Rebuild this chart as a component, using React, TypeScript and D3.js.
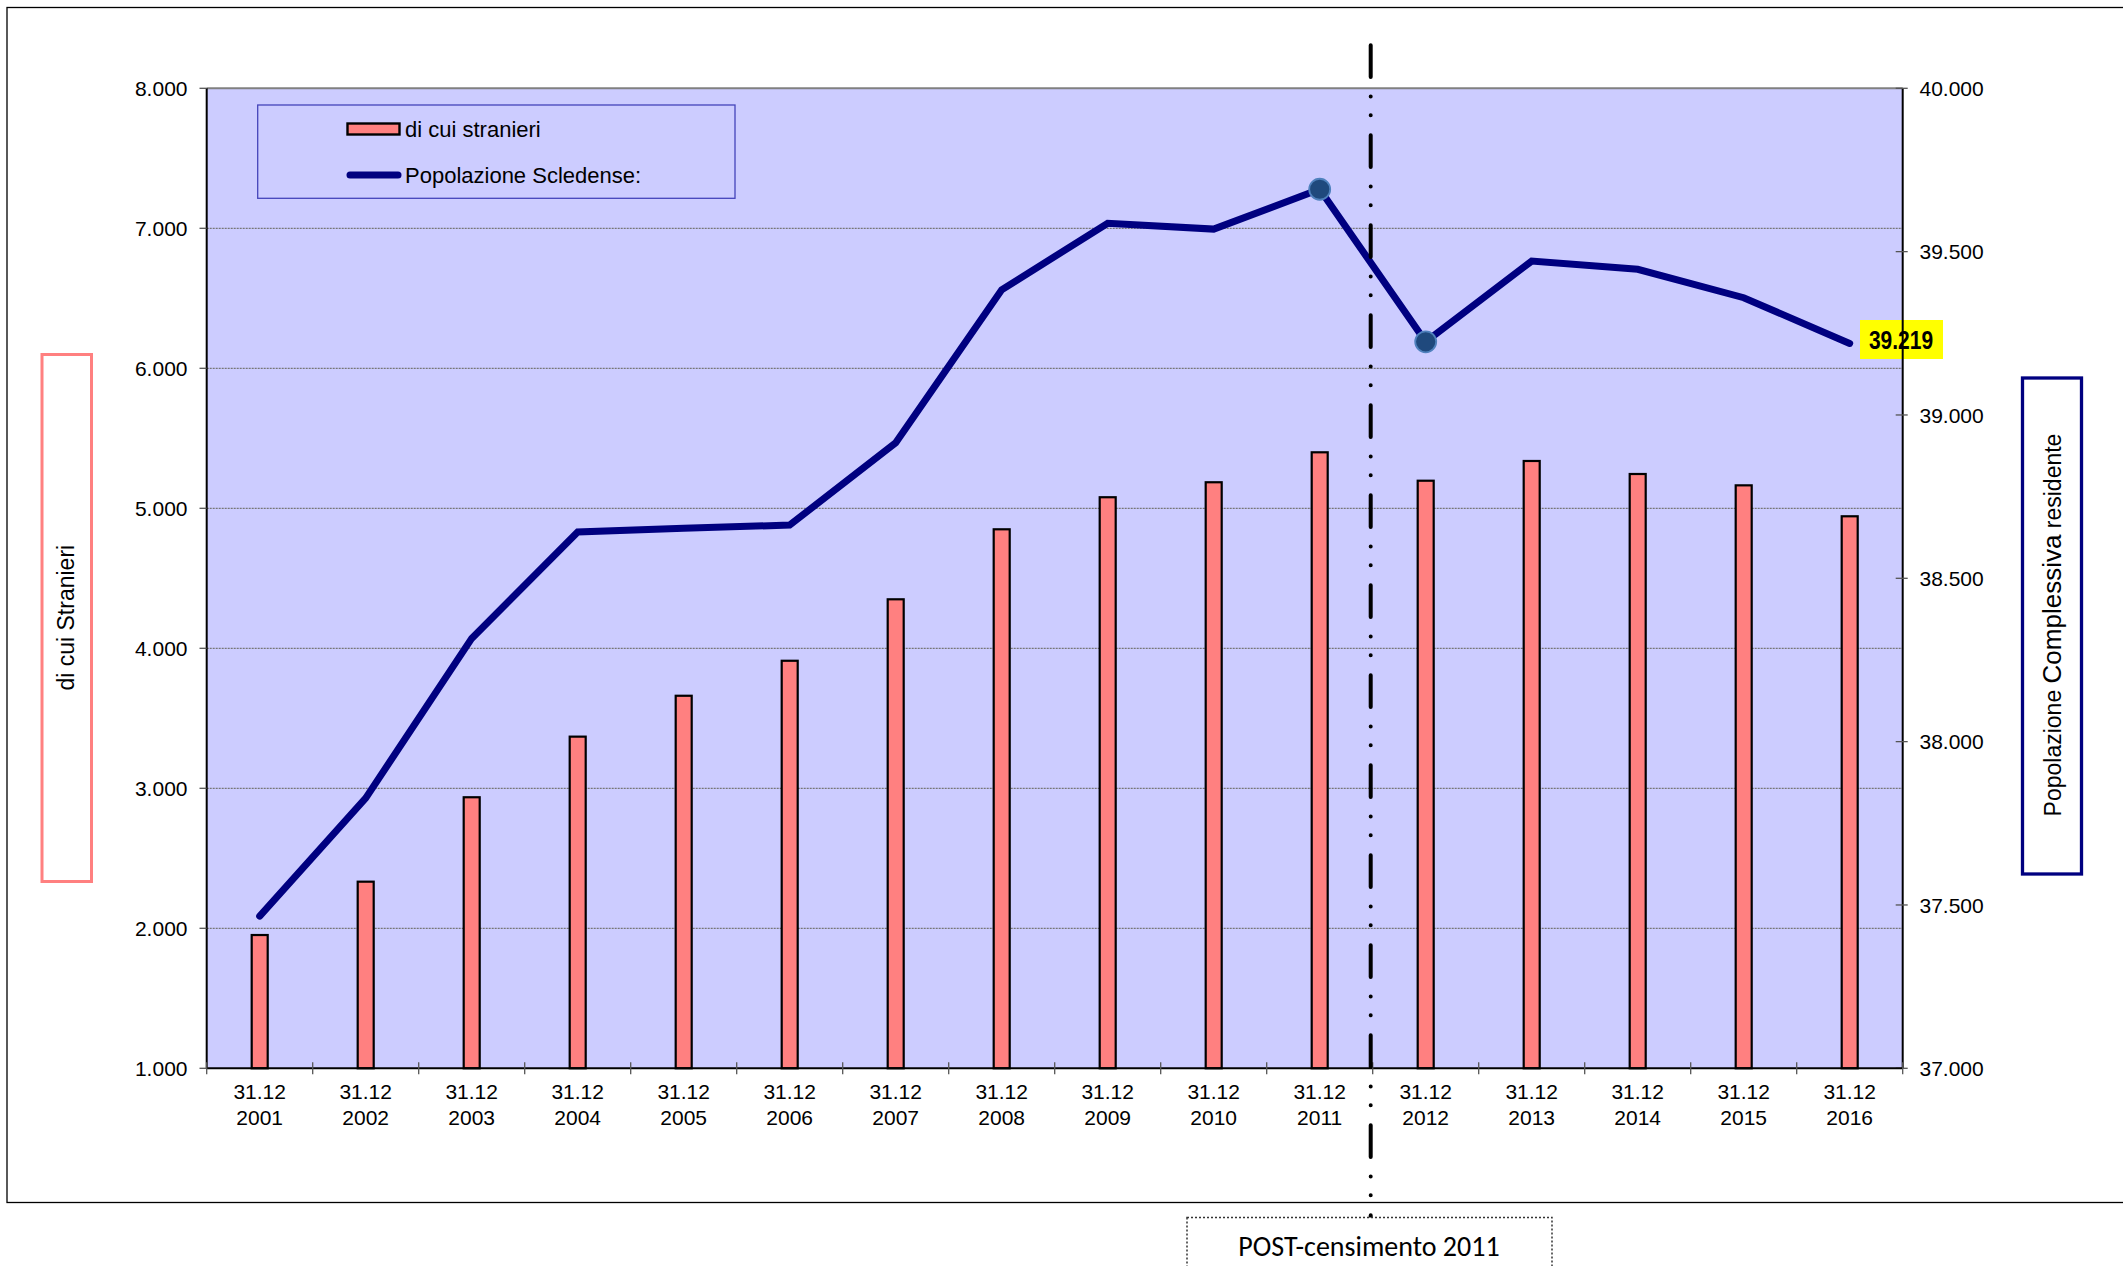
import * as d3 from 'd3';

const years = ['2001', '2002', '2003', '2004', '2005', '2006', '2007', '2008', '2009', '2010', '2011', '2012', '2013', '2014', '2015', '2016'];
const stranieri = [1952, 2333, 2936, 3369, 3661, 3911, 4350, 4850, 5079, 5186, 5400, 5197, 5338, 5245, 5164, 4943];
const popolazione = [37466, 37827, 38316, 38642, 38653, 38663, 38915, 39383, 39587, 39569, 39691, 39224, 39471, 39446, 39359, 39219];
const markerYears = ['2011', '2012'];
const leftTicks = [1000, 2000, 3000, 4000, 5000, 6000, 7000, 8000];
const rightTicks = [37000, 37500, 38000, 38500, 39000, 39500, 40000];
const censusAfter = '2011';

const W = 2123;
const H = 1266;
const plot = { left: 206.7, right: 1902.7, top: 88.3, bottom: 1068.3 };
const font = 'Liberation Sans, Arial, sans-serif';

const it = d3.formatLocale({ decimal: ',', thousands: '.', grouping: [3], currency: ['€', ''] });
const fmt = it.format(',');

export default function App() {
  const x = d3.scaleBand<string>().domain(years).range([plot.left, plot.right]).padding(0);
  const yL = d3.scaleLinear().domain([1000, 8000]).range([plot.bottom, plot.top]);
  const yR = d3.scaleLinear().domain([37000, 40000]).range([plot.bottom, plot.top]);
  const cx = (y: string) => (x(y) || 0) + x.bandwidth() / 2;
  const barW = 16;

  const line = d3.line<number>()
    .x((_, i) => cx(years[i]))
    .y(d => yR(d));

  const lastIdx = years.length - 1;
  const cutX = (x(censusAfter) || 0) + x.bandwidth();

  return (
    <svg width={W} height={H} style={{ position: 'absolute', left: 0, top: 0, background: '#fff' }}>
      {/* outer frame */}
      <rect x={7} y={7.5} width={W + 20} height={1195} fill="none" stroke="#000" strokeWidth={1.3} />

      {/* plot background */}
      <rect x={plot.left} y={plot.top} width={plot.right - plot.left} height={plot.bottom - plot.top} fill="#CCCCFF" />

      {/* grid lines */}
      {leftTicks.filter(t => t !== 1000 && t !== 8000).map(t => (
        <line key={t} x1={plot.left} x2={plot.right} y1={yL(t)} y2={yL(t)} stroke="#777" strokeWidth={1.2} strokeDasharray="2 1" />
      ))}
      <line x1={plot.left} x2={plot.right} y1={plot.top} y2={plot.top} stroke="#808080" strokeWidth={2} />

      {/* legend */}
      <rect x={257.7} y={105} width={477.3} height={93.3} fill="none" stroke="#4444BB" strokeWidth={1.3} />
      <rect x={347.5} y={123.5} width={52} height={11} fill="#FF8080" stroke="#000" strokeWidth={2.4} />
      <text x={405} y={136.5} fontFamily={font} fontSize={22} fill="#000">di cui stranieri</text>
      <line x1={350} x2={398} y1={175} y2={175} stroke="#000080" strokeWidth={7} strokeLinecap="round" />
      <text x={405} y={182.5} fontFamily={font} fontSize={22} fill="#000">Popolazione Scledense:</text>

      {/* bars */}
      {years.map((y, i) => (
        <rect key={y} x={cx(y) - barW / 2} y={yL(stranieri[i])} width={barW} height={plot.bottom - yL(stranieri[i])}
          fill="#FF8080" stroke="#000" strokeWidth={2.2} />
      ))}

      {/* population line */}
      <path d={line(popolazione) || ''} fill="none" stroke="#000080" strokeWidth={7} strokeLinejoin="miter" strokeLinecap="round" />
      {years.map((y, i) => markerYears.includes(y) ? (
        <circle key={y} cx={cx(y)} cy={yR(popolazione[i])} r={10.5} fill="#1F497D" stroke="#4F81BD" strokeWidth={1.8} />
      ) : null)}

      {/* last value label */}
      <rect x={1860} y={320} width={83} height={39} fill="#FFFF00" />
      <text transform="translate(1901,348.5) scale(0.84,1)" textAnchor="middle" fontFamily={font}
        fontWeight="bold" fontSize={25} fill="#000">{fmt(popolazione[lastIdx])}</text>

      {/* left axis */}
      <line x1={plot.left} x2={plot.left} y1={plot.top} y2={plot.bottom} stroke="#000" strokeWidth={2} />
      {leftTicks.map(t => (
        <g key={t}>
          <line x1={199.5} x2={plot.left} y1={yL(t)} y2={yL(t)} stroke="#555" strokeWidth={1.3} />
          <text x={187.5} y={yL(t)} dy="0.36em" textAnchor="end" fontFamily={font} fontSize={21} fill="#000">{fmt(t)}</text>
        </g>
      ))}

      {/* right axis */}
      <line x1={plot.right} x2={plot.right} y1={plot.top} y2={plot.bottom} stroke="#000" strokeWidth={2} />
      {rightTicks.map(t => (
        <g key={t}>
          <line x1={plot.right - 7} x2={plot.right + 5} y1={yR(t)} y2={yR(t)} stroke="#555" strokeWidth={1.3} />
          <text x={1919.5} y={yR(t)} dy="0.36em" fontFamily={font} fontSize={21} fill="#000">{fmt(t)}</text>
        </g>
      ))}

      {/* bottom axis */}
      <line x1={plot.left} x2={plot.right} y1={plot.bottom} y2={plot.bottom} stroke="#000" strokeWidth={2} />
      {[...years.map(y => x(y) || 0), plot.right].map((bx, i) => (
        <line key={i} x1={bx} x2={bx} y1={plot.bottom - 6} y2={plot.bottom + 6} stroke="#555" strokeWidth={1.3} />
      ))}
      {years.map(y => (
        <g key={y}>
          <text x={cx(y)} y={1099} textAnchor="middle" fontFamily={font} fontSize={21} fill="#000">31.12</text>
          <text x={cx(y)} y={1125} textAnchor="middle" fontFamily={font} fontSize={21} fill="#000">{y}</text>
        </g>
      ))}

      {/* census separator */}
      <line x1={cutX - 2} x2={cutX - 2} y1={45.3} y2={1217} stroke="#000" strokeWidth={4} strokeLinecap="round"
        strokeDasharray="31.6 19.7 0 18.7 0 20" />

      {/* axis title boxes */}
      <rect x={42} y={354.5} width={49.5} height={527} fill="#fff" stroke="#FF8080" strokeWidth={3} />
      <text transform="translate(74,617.7) rotate(-90)" textAnchor="middle" fontFamily={font} fontSize={23} fill="#000">di cui Stranieri</text>

      <rect x={2022.5} y={378} width={59} height={496} fill="#fff" stroke="#000080" strokeWidth={3.3} />
      <text transform="translate(2061,625) rotate(-90)" textAnchor="middle" fontFamily={font} fill="#000">
        <tspan fontSize={23}>Popolazione </tspan>
        <tspan fontSize={26}>Complessiva</tspan>
        <tspan fontSize={23}> residente</tspan>
      </text>

      {/* post census note */}
      <rect x={1187} y={1217.5} width={365} height={60} fill="#fff" stroke="#333" strokeWidth={1.5} strokeDasharray="2 2" />
      <text x={1369} y={1256} textAnchor="middle" fontFamily="Carlito, Lato, Open Sans, sans-serif" fontSize={28} fill="#000">POST-censimento 2011</text>
    </svg>
  );
}
